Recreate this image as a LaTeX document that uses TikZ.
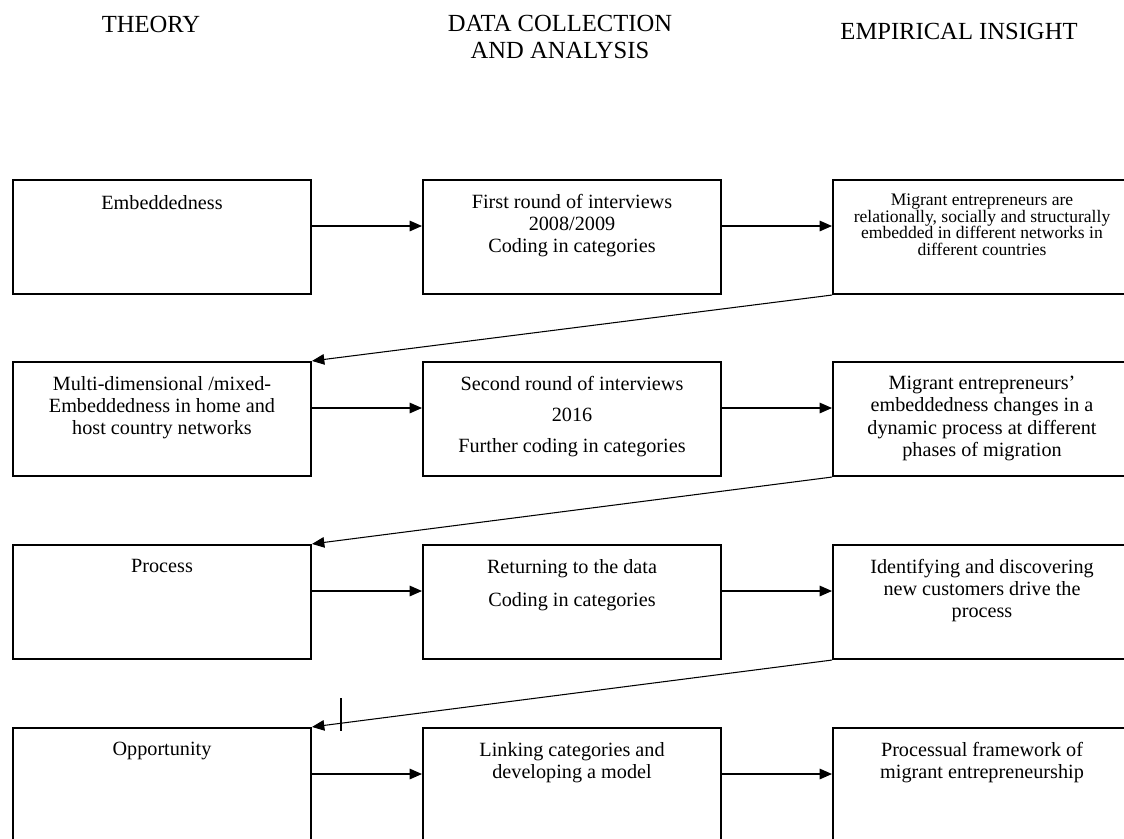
\documentclass[tikz,border=0pt]{standalone}
\usepackage{fontspec}
\setmainfont{Liberation Serif}
\usetikzlibrary{arrows.meta}

\begin{document}
\begin{tikzpicture}[x=0.02cm,y=-0.02cm,
  box/.style={draw,line width=1.2pt,minimum width=5.96cm,minimum height=2.28cm,inner sep=0pt},
  txt/.style={anchor=north,align=center,inner sep=0pt,font=\fontsize{11.5}{12.6}\selectfont},
  small/.style={txt,font=\fontsize{10}{9.4}\selectfont},
  head/.style={align=center,font=\fontsize{14}{15.4}\selectfont},
  link/.style={line width=0.6pt,-{Triangle[length=7pt,width=6pt]}}]
  \useasboundingbox (0,0) rectangle (1124,838);
  \clip (0,0) rectangle (1124,838);

  % column headings
  \node[head] (theory) at (151,24) {THEORY};
  \node[head] (data) at (560,37) {DATA COLLECTION\\AND ANALYSIS};
  \node[head] (insight) at (959,31) {EMPIRICAL INSIGHT};

  % boxes
  \node[box] (emb) at (162,237) {};
  \node[box] (first) at (572,237) {};
  \node[box] (ins1) at (982,237) {};
  \node[box] (mix) at (162,419) {};
  \node[box] (second) at (572,419) {};
  \node[box] (ins2) at (982,419) {};
  \node[box] (proc) at (162,602) {};
  \node[box] (ret) at (572,602) {};
  \node[box] (ins3) at (982,602) {};
  \node[box] (opp) at (162,785) {};
  \node[box] (link) at (572,785) {};
  \node[box] (frame) at (982,785) {};

  % box texts
  \node[txt] (embT) at ([yshift=-0.32cm]emb.north) {Embeddedness};
  \node[txt] (firstT) at ([yshift=-0.3cm]first.north) {First round of interviews\\2008/2009\\Coding in categories};
  \node[small] (ins1T) at ([yshift=-0.3cm]ins1.north) {Migrant entrepreneurs are\\relationally, socially and structurally\\embedded in different networks in\\different countries};
  \node[txt] (mixT) at ([yshift=-0.3cm]mix.north) {Multi-dimensional /mixed-\\Embeddedness in home and\\host country networks};
  \node[txt] (secondT) at ([yshift=-0.3cm]second.north) {Second round of interviews\\[5pt]2016\\[5pt]Further coding in categories};
  \node[txt] (ins2T) at ([yshift=-0.3cm]ins2.north) {Migrant entrepreneurs'\\embeddedness changes in a\\dynamic process at different\\phases of migration};
  \node[txt] (procT) at ([yshift=-0.3cm]proc.north) {Process};
  \node[txt] (retT) at ([yshift=-0.3cm]ret.north) {Returning to the data\\[6pt]Coding in categories};
  \node[txt] (ins3T) at ([yshift=-0.3cm]ins3.north) {Identifying and discovering\\new customers drive the\\process};
  \node[txt] (oppT) at ([yshift=-0.3cm]opp.north) {Opportunity};
  \node[txt] (linkT) at ([yshift=-0.3cm]link.north) {Linking categories and\\developing a model};
  \node[txt] (frameT) at ([yshift=-0.3cm]frame.north) {Processual framework of\\migrant entrepreneurship};

  % arrows along the rows
  \draw[link] ([yshift=0.22cm]emb.east) -- ([yshift=0.22cm]first.west);
  \draw[link] ([yshift=0.22cm]first.east) -- ([yshift=0.22cm]ins1.west);
  \draw[link] ([yshift=0.22cm]mix.east) -- ([yshift=0.22cm]second.west);
  \draw[link] ([yshift=0.22cm]second.east) -- ([yshift=0.22cm]ins2.west);
  \draw[link] ([yshift=0.22cm]proc.east) -- ([yshift=0.22cm]ret.west);
  \draw[link] ([yshift=0.22cm]ret.east) -- ([yshift=0.22cm]ins3.west);
  \draw[link] ([yshift=0.22cm]opp.east) -- ([yshift=0.22cm]link.west);
  \draw[link] ([yshift=0.22cm]link.east) -- ([yshift=0.22cm]frame.west);

  % arrows back to the next row
  \draw[link] (ins1.south west) -- (mix.north east);
  \draw[link] (ins2.south west) -- (proc.north east);
  \draw[link] (ins3.south west) -- (opp.north east);

  \coordinate (tickA) at (341,698);
  \coordinate (tickB) at (341,731);
  \draw[line width=0.6pt] (tickA) -- (tickB);
\end{tikzpicture}
\end{document}
